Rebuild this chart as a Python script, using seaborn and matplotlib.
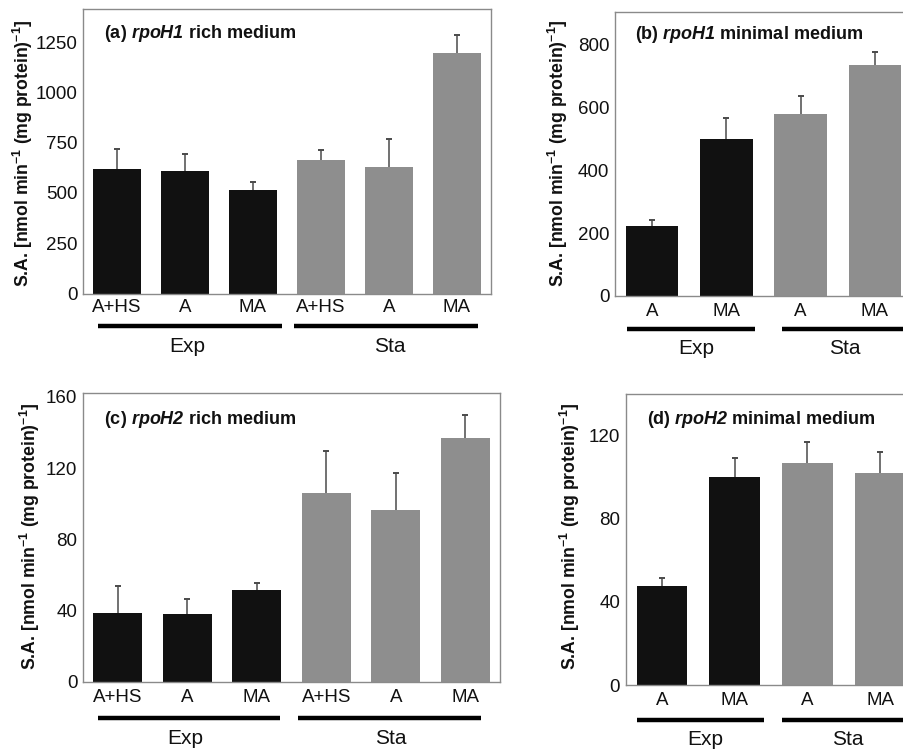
import matplotlib
matplotlib.use("Agg")
import matplotlib.pyplot as plt
import matplotlib.transforms as mtransforms
import seaborn as sns
import pandas as pd
import numpy as np

# ---------------- data ----------------
a_labels = ["A+HS", "A", "MA", "A+HS", "A", "MA"]
a_phase = ["Exp", "Exp", "Exp", "Sta", "Sta", "Sta"]
a_values = [619, 609, 513, 664, 629, 1197]
a_errors = [99, 83, 43, 51, 137, 89]

b_labels = ["A", "MA", "A", "MA"]
b_phase = ["Exp", "Exp", "Sta", "Sta"]
b_values = [224, 499, 579, 735]
b_errors = [17, 68, 58, 44]

c_labels = ["A+HS", "A", "MA", "A+HS", "A", "MA"]
c_phase = ["Exp", "Exp", "Exp", "Sta", "Sta", "Sta"]
c_values = [38.7, 38.0, 51.8, 106.2, 96.6, 137.0]
c_errors = [15.3, 8.7, 3.9, 23.4, 20.8, 13.0]

d_labels = ["A", "MA", "A", "MA"]
d_phase = ["Exp", "Exp", "Sta", "Sta"]
d_values = [47.5, 100.2, 107.0, 102.1]
d_errors = [3.9, 8.8, 10.0, 9.9]

a_yticks = [0, 250, 500, 750, 1000, 1250]
b_yticks = [0, 200, 400, 600, 800]
c_yticks = [0, 40, 80, 120, 160]
d_yticks = [0, 40, 80, 120]

titles = [r"(a) $\mathbfit{rpoH1}$ rich medium",
          r"(b) $\mathbfit{rpoH1}$ minimal medium",
          r"(c) $\mathbfit{rpoH2}$ rich medium",
          r"(d) $\mathbfit{rpoH2}$ minimal medium"]
group_names = ["Exp", "Sta"]
ylabel_text = r"S.A. [nmol min$^{\mathbf{-1}}$ (mg protein)$^{\mathbf{-1}}$]"

# ---------------- style ----------------
sns.set_theme(style="white")
plt.rcParams["font.family"] = ["Liberation Sans", "DejaVu Sans"]
plt.rcParams["mathtext.fontset"] = "custom"
plt.rcParams["mathtext.rm"] = "Liberation Sans"
plt.rcParams["mathtext.it"] = "Liberation Sans:italic"
plt.rcParams["mathtext.bf"] = "Liberation Sans:bold"
plt.rcParams["mathtext.bfit"] = "Liberation Sans:italic:bold"

BLACK = "#111111"
GRAY = "#8e8e8e"
palette = {"Exp": BLACK, "Sta": GRAY}

W, H = 904, 751
fig = plt.figure(figsize=(W / 100, H / 100), dpi=100)

def px_rect(left, top, right, bottom):
    return [left / W, 1 - bottom / H, (right - left) / W, (bottom - top) / H]

layout = [
    dict(rect=px_rect(83, 9, 491, 293.6), ymax=1414, yticks=a_yticks,
         labels=a_labels, phase=a_phase, values=a_values, errors=a_errors,
         spans=[(-0.28, 2.43), (2.60, 5.31)], line_y=325.7,
         glabel_x=[1.03, 4.01], glabel_y=346.7, ylab=(23.3, 153.7),
         toff=(21, -25), width=0.72, xpad=4.0),
    dict(rect=px_rect(615, 12.3, 912, 296), ymax=904, yticks=b_yticks,
         labels=b_labels, phase=b_phase, values=b_values, errors=b_errors,
         spans=[(-0.34, 1.39), (1.75, 3.6)], line_y=329,
         glabel_x=[0.6, 2.59], glabel_y=348.3, ylab=(557.5, 153.5),
         toff=(20, -22), width=0.71, xpad=5.0),
    dict(rect=px_rect(83, 393.3, 500, 682), ymax=162, yticks=c_yticks,
         labels=c_labels, phase=c_phase, values=c_values, errors=c_errors,
         spans=[(-0.29, 2.34), (2.59, 5.23)], line_y=718.3,
         glabel_x=[0.97, 3.93], glabel_y=738.3, ylab=(30, 536.7),
         toff=(21, -26), width=0.71, xpad=5.0),
    dict(rect=px_rect(625.7, 394, 916.5, 685), ymax=140, yticks=d_yticks,
         labels=d_labels, phase=d_phase, values=d_values, errors=d_errors,
         spans=[(-0.35, 1.40), (1.65, 3.6)], line_y=720,
         glabel_x=[0.6, 2.56], glabel_y=739.3, ylab=(570, 536.7),
         toff=(21, -25), width=0.70, xpad=5.0),
]

for i, L in enumerate(layout):
    ax = fig.add_axes(L["rect"])
    n = len(L["values"])
    keys = [f"{p}-{lab}-{k}" for k, (p, lab) in enumerate(zip(L["phase"], L["labels"]))]
    df = pd.DataFrame({"key": keys, "value": L["values"], "phase": L["phase"]})
    sns.barplot(data=df, x="key", y="value", hue="phase", order=keys,
                hue_order=group_names, palette=palette, dodge=False,
                width=L["width"], saturation=1, errorbar=None, legend=False,
                ax=ax, linewidth=0)
    vals = np.asarray(L["values"], float)
    errs = np.asarray(L["errors"], float)
    xs = np.arange(n)
    ax.vlines(xs, vals, vals + errs, colors="#4a4a4a", linewidth=1.1, zorder=3)
    ax.plot(xs, vals + errs, ls="none", marker="_", ms=4.5, mew=1.4,
            color="#4a4a4a", zorder=3)

    ax.set_xlim(-0.5, n - 0.5)
    ax.set_ylim(0, L["ymax"])
    ax.set_yticks(L["yticks"])
    ax.set_xticks(xs)
    ax.set_xticklabels(L["labels"])
    ax.set_xlabel("")
    ax.set_ylabel("")
    ax.tick_params(axis="both", length=0, labelsize=13.5, colors="#111111")
    ax.tick_params(axis="y", pad=4)
    ax.tick_params(axis="x", pad=L["xpad"])
    ax.grid(False)
    for s in ax.spines.values():
        s.set_color("#8a8a8a")
        s.set_linewidth(1.0)
        s.set_visible(True)

    # title inside panel
    ax.annotate(titles[i], xy=(0, 1), xycoords="axes fraction",
                xytext=L["toff"], textcoords="offset pixels",
                ha="left", va="center", fontsize=13, fontweight="bold",
                color="#111111")

    # group lines and labels
    trans = mtransforms.blended_transform_factory(ax.transData, fig.transFigure)
    for (x0, x1), gx, gname in zip(L["spans"], L["glabel_x"], group_names):
        yl = 1 - L["line_y"] / H
        ax.plot([x0, x1], [yl, yl], color="black", lw=3.2,
                solid_capstyle="butt", transform=trans, clip_on=False)
        ax.text(gx, 1 - L["glabel_y"] / H, gname, transform=trans,
                ha="center", va="center", fontsize=15, color="#111111")

    fig.text(L["ylab"][0] / W, 1 - L["ylab"][1] / H, ylabel_text,
             rotation=90, ha="center", va="center", fontsize=12.7,
             fontweight="bold", color="#111111")

fig.savefig("out.png", dpi=100)
